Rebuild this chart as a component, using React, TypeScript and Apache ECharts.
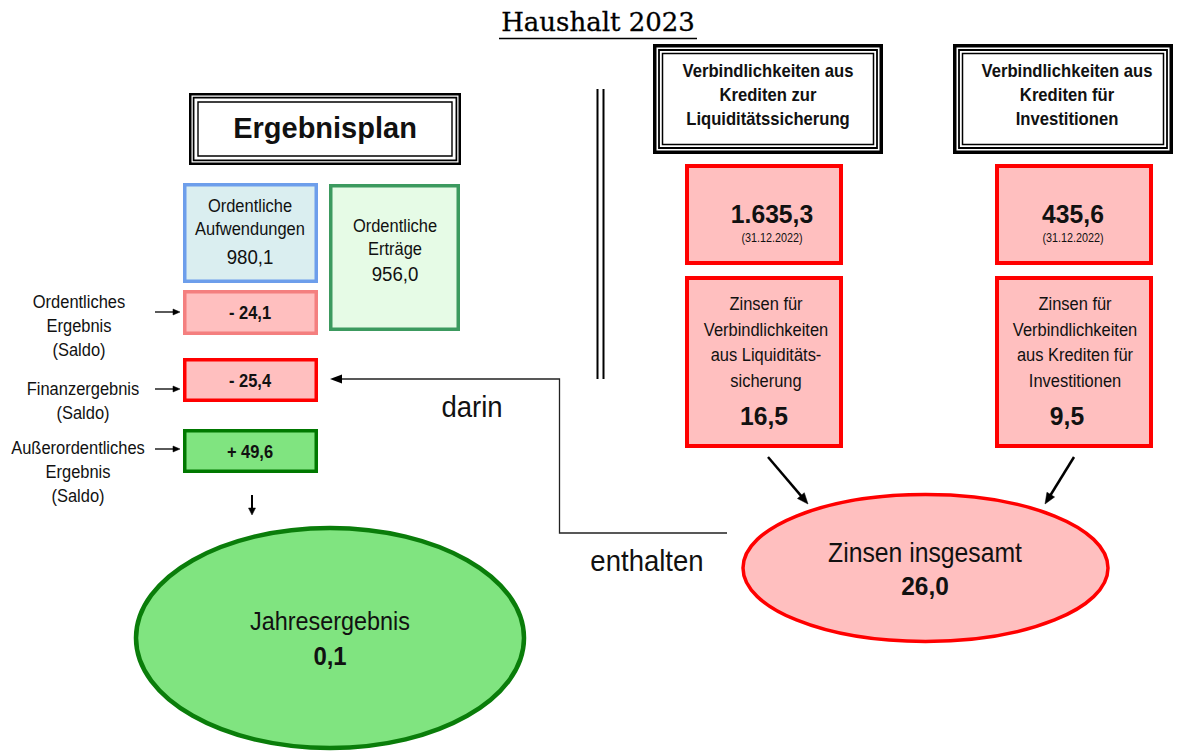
import React, { useEffect, useRef } from "react";
import * as echarts from "echarts";

const title = "Haushalt 2023";
const planTitle = "Ergebnisplan";
const aufwendungenLabel = ["Ordentliche", "Aufwendungen"];
const aufwendungenValue = "980,1";
const ertraegeLabel = ["Ordentliche", "Erträge"];
const ertraegeValue = "956,0";
const saldoLabels = [
  ["Ordentliches", "Ergebnis", "(Saldo)"],
  ["Finanzergebnis", "(Saldo)"],
  ["Außerordentliches", "Ergebnis", "(Saldo)"],
];
const saldoValues = ["- 24,1", "- 25,4", "+ 49,6"];
const jahresLabel = "Jahresergebnis";
const jahresValue = "0,1";
const kreditTitles = [
  ["Verbindlichkeiten aus", "Krediten zur", "Liquiditätssicherung"],
  ["Verbindlichkeiten aus", "Krediten für", "Investitionen"],
];
const kreditStand = ["1.635,3", "435,6"];
const standDatum = "(31.12.2022)";
const zinsLabels = [
  ["Zinsen für", "Verbindlichkeiten", "aus Liquiditäts-", "sicherung"],
  ["Zinsen für", "Verbindlichkeiten", "aus Krediten für", "Investitionen"],
];
const zinsValues = ["16,5", "9,5"];
const zinsTotalLabel = "Zinsen insgesamt";
const zinsTotalValue = "26,0";
const connectorLabels = ["darin", "enthalten"];

const SANS = "'Liberation Sans', Arial, sans-serif";

// size = visual (height) font size, sx = horizontal condensing factor
function txt(text: string, x: number, y: number, size: number, bold = false, sx = 1, extra: any = {}) {
  return {
    type: "text",
    x,
    y,
    scaleX: sx,
    style: {
      text,
      x: 0,
      y: 0,
      fontSize: size,
      fontFamily: SANS,
      fontWeight: bold ? "bold" : "normal",
      fill: "#111",
      align: "center",
      verticalAlign: "middle",
      ...extra,
    },
    z: 10,
  };
}

function lines(arr: string[], x: number, y0: number, step: number, size: number, bold = false, sx = 1) {
  return arr.map((t, i) => txt(t, x, y0 + i * step, size, bold, sx));
}

function box(x1: number, y1: number, x2: number, y2: number, stroke: string, fill: string, lw = 3) {
  return {
    type: "rect",
    shape: { x: x1 + lw / 2, y: y1 + lw / 2, width: x2 - x1 - lw, height: y2 - y1 - lw },
    style: { fill, stroke, lineWidth: lw },
    z: 2,
  };
}

function tripleBox(x1: number, y1: number, x2: number, y2: number, w: number[], ins: number[]) {
  const out: any[] = [
    { type: "rect", shape: { x: x1, y: y1, width: x2 - x1, height: y2 - y1 }, style: { fill: "#fff" }, z: 1 },
  ];
  for (let i = 0; i < 3; i++) {
    out.push({
      type: "rect",
      shape: { x: x1 + ins[i], y: y1 + ins[i], width: x2 - x1 - 2 * ins[i], height: y2 - y1 - 2 * ins[i] },
      style: { fill: "none", stroke: "#000", lineWidth: w[i] },
      z: 2,
    });
  }
  return out;
}

function arrow(x1: number, y1: number, x2: number, y2: number, lw: number, hl: number, hw: number, color = "#000") {
  const dx = x2 - x1;
  const dy = y2 - y1;
  const len = Math.sqrt(dx * dx + dy * dy);
  const ux = dx / len;
  const uy = dy / len;
  const bx = x2 - ux * hl;
  const by = y2 - uy * hl;
  const px = -uy;
  const py = ux;
  return [
    {
      type: "line",
      shape: { x1, y1, x2: bx + ux * 1, y2: by + uy * 1 },
      style: { stroke: color, lineWidth: lw },
      z: 5,
    },
    {
      type: "polygon",
      shape: {
        points: [
          [x2, y2],
          [bx + px * hw, by + py * hw],
          [bx - px * hw, by - py * hw],
        ],
      },
      style: { fill: color, stroke: color, lineWidth: 0.5 },
      z: 5,
    },
  ];
}

export default function App() {
  const ref = useRef<HTMLDivElement>(null);
  useEffect(() => {
    if (!ref.current) return;
    const chart = echarts.init(ref.current, undefined, { renderer: "svg" });
    const g: any[] = [];

    // Title
    g.push({
      type: "text",
      style: {
        text: title,
        x: 598,
        y: 22,
        fontSize: 26,
        fontFamily: "'DejaVu Serif', serif",
        fill: "#000",
        align: "center",
        verticalAlign: "middle",
        stroke: "#000",
        lineWidth: 0.3,
      },
      z: 10,
    });
    g.push({ type: "line", shape: { x1: 499, y1: 38.5, x2: 697, y2: 38.5 }, style: { stroke: "#000", lineWidth: 1.6 } });

    // Ergebnisplan header
    g.push(...tripleBox(189, 93, 461, 165, [2.5, 1.7, 1.4], [1.25, 4.6, 9]));
    g.push(txt(planTitle, 325, 128, 29, true));

    const N = 18.3; // normal text visual size
    const NSX = 0.9;

    // Aufwendungen / Erträge
    g.push(box(183, 183, 318, 283, "#6d9eeb", "#daeef0", 3.5));
    g.push(...lines(aufwendungenLabel, 250, 206, 23, N, false, NSX));
    g.push(txt(aufwendungenValue, 250, 257, 21, false, 0.89));
    g.push(box(329, 184, 460, 331, "#3c9a5f", "#e6fbe6", 3.5));
    g.push(...lines(ertraegeLabel, 395, 226, 23, N, false, NSX));
    g.push(txt(ertraegeValue, 395, 274, 21, false, 0.89));

    // Saldo boxes
    const saldoBoxes = [
      { y1: 290, y2: 335, stroke: "#f47f7f", fill: "#ffbfbf" },
      { y1: 358, y2: 402, stroke: "#ff0000", fill: "#ffbfbf" },
      { y1: 429, y2: 473, stroke: "#007800", fill: "#80e480" },
    ];
    const saldoLabelY = [302, 389, 448];
    const saldoLabelX = [79, 83, 78];
    const arrowY = [312, 389, 449];
    saldoBoxes.forEach((b, i) => {
      g.push(box(183, b.y1, 318, b.y2, b.stroke, b.fill, 3.5));
      g.push(txt(saldoValues[i], 250, (b.y1 + b.y2) / 2 + 1, 17.7, true, 0.93));
      g.push(...lines(saldoLabels[i], saldoLabelX[i], saldoLabelY[i], 24, N, false, NSX));
      g.push(...arrow(155, arrowY[i], 180, arrowY[i], 1.3, 7, 3));
    });

    // down arrow
    g.push(...arrow(252, 495, 252, 515, 2, 7, 3.5));

    // Jahresergebnis ellipse
    g.push({
      type: "ellipse",
      shape: { cx: 330, cy: 638, rx: 194, ry: 110 },
      style: { fill: "#80e480", stroke: "#0a7d0a", lineWidth: 4.5 },
      z: 2,
    });
    g.push(txt(jahresLabel, 330, 621, 26, false, 0.9));
    g.push(txt(jahresValue, 330, 656, 26, true, 0.92));

    // Connector line
    g.push({
      type: "polyline",
      shape: { points: [[727, 533], [559.5, 533], [559.5, 379], [340, 379]] },
      style: { stroke: "#222", lineWidth: 1.3, fill: "none" },
      z: 5,
    });
    g.push({
      type: "polygon",
      shape: { points: [[330, 379], [342, 374.5], [342, 383.5]] },
      style: { fill: "#000" },
      z: 5,
    });
    g.push(txt(connectorLabels[0], 472, 407, 29, false, 0.95));
    g.push(txt(connectorLabels[1], 647, 561, 29, false, 0.95));

    // Double vertical line
    g.push({ type: "line", shape: { x1: 597.5, y1: 89, x2: 597.5, y2: 379 }, style: { stroke: "#000", lineWidth: 2 } });
    g.push({ type: "line", shape: { x1: 603.5, y1: 89, x2: 603.5, y2: 379 }, style: { stroke: "#000", lineWidth: 2 } });

    // Kredit columns
    const cols = [
      { hx1: 653, hx2: 883, bx1: 685, bx2: 843, tc: 768, sc: 772, zc: 766, vc: 764 },
      { hx1: 953, hx2: 1173, bx1: 995, bx2: 1153, tc: 1067, sc: 1073, zc: 1075, vc: 1067 },
    ];
    cols.forEach((c, i) => {
      g.push(...tripleBox(c.hx1, 44, c.hx2, 154, [3.5, 1.8, 1.5], [1.75, 6, 9.5]));
      g.push(...lines(kreditTitles[i], c.tc, 71, 24, 18.5, true, 0.9));
      g.push(box(c.bx1, 164, c.bx2, 265, "#ff0000", "#ffbfbf", 4));
      g.push(txt(kreditStand[i], c.sc, 214, 26, true, 0.95));
      g.push(txt(standDatum, c.sc, 238, 12, false, 0.9));
      g.push(box(c.bx1, 276, c.bx2, 448, "#ff0000", "#ffbfbf", 4));
      g.push(...lines(zinsLabels[i], c.zc, 304, 25.5, N, false, NSX));
      g.push(txt(zinsValues[i], c.vc, 416, 26, true, 0.95));
    });

    // diagonal arrows
    g.push(...arrow(768, 457, 808, 504, 2.5, 11, 4.5));
    g.push(...arrow(1074, 457, 1045, 504, 2.5, 11, 4.5));

    // Zinsen insgesamt ellipse
    g.push({
      type: "ellipse",
      shape: { cx: 925.5, cy: 568, rx: 182.5, ry: 73.5 },
      style: { fill: "#ffbfbf", stroke: "#ff0000", lineWidth: 3.5 },
      z: 2,
    });
    g.push(txt(zinsTotalLabel, 925, 553, 27.5, false, 0.9));
    g.push(txt(zinsTotalValue, 925, 586, 26, true, 0.94));

    chart.setOption({
      animation: false,
      backgroundColor: "#ffffff",
      graphic: { elements: g },
    });
    return () => chart.dispose();
  }, []);
  return (
    <div
      ref={ref}
      style={{ position: "fixed", left: 0, top: 0, width: 1178, height: 751, background: "#fff" }}
    />
  );
}
